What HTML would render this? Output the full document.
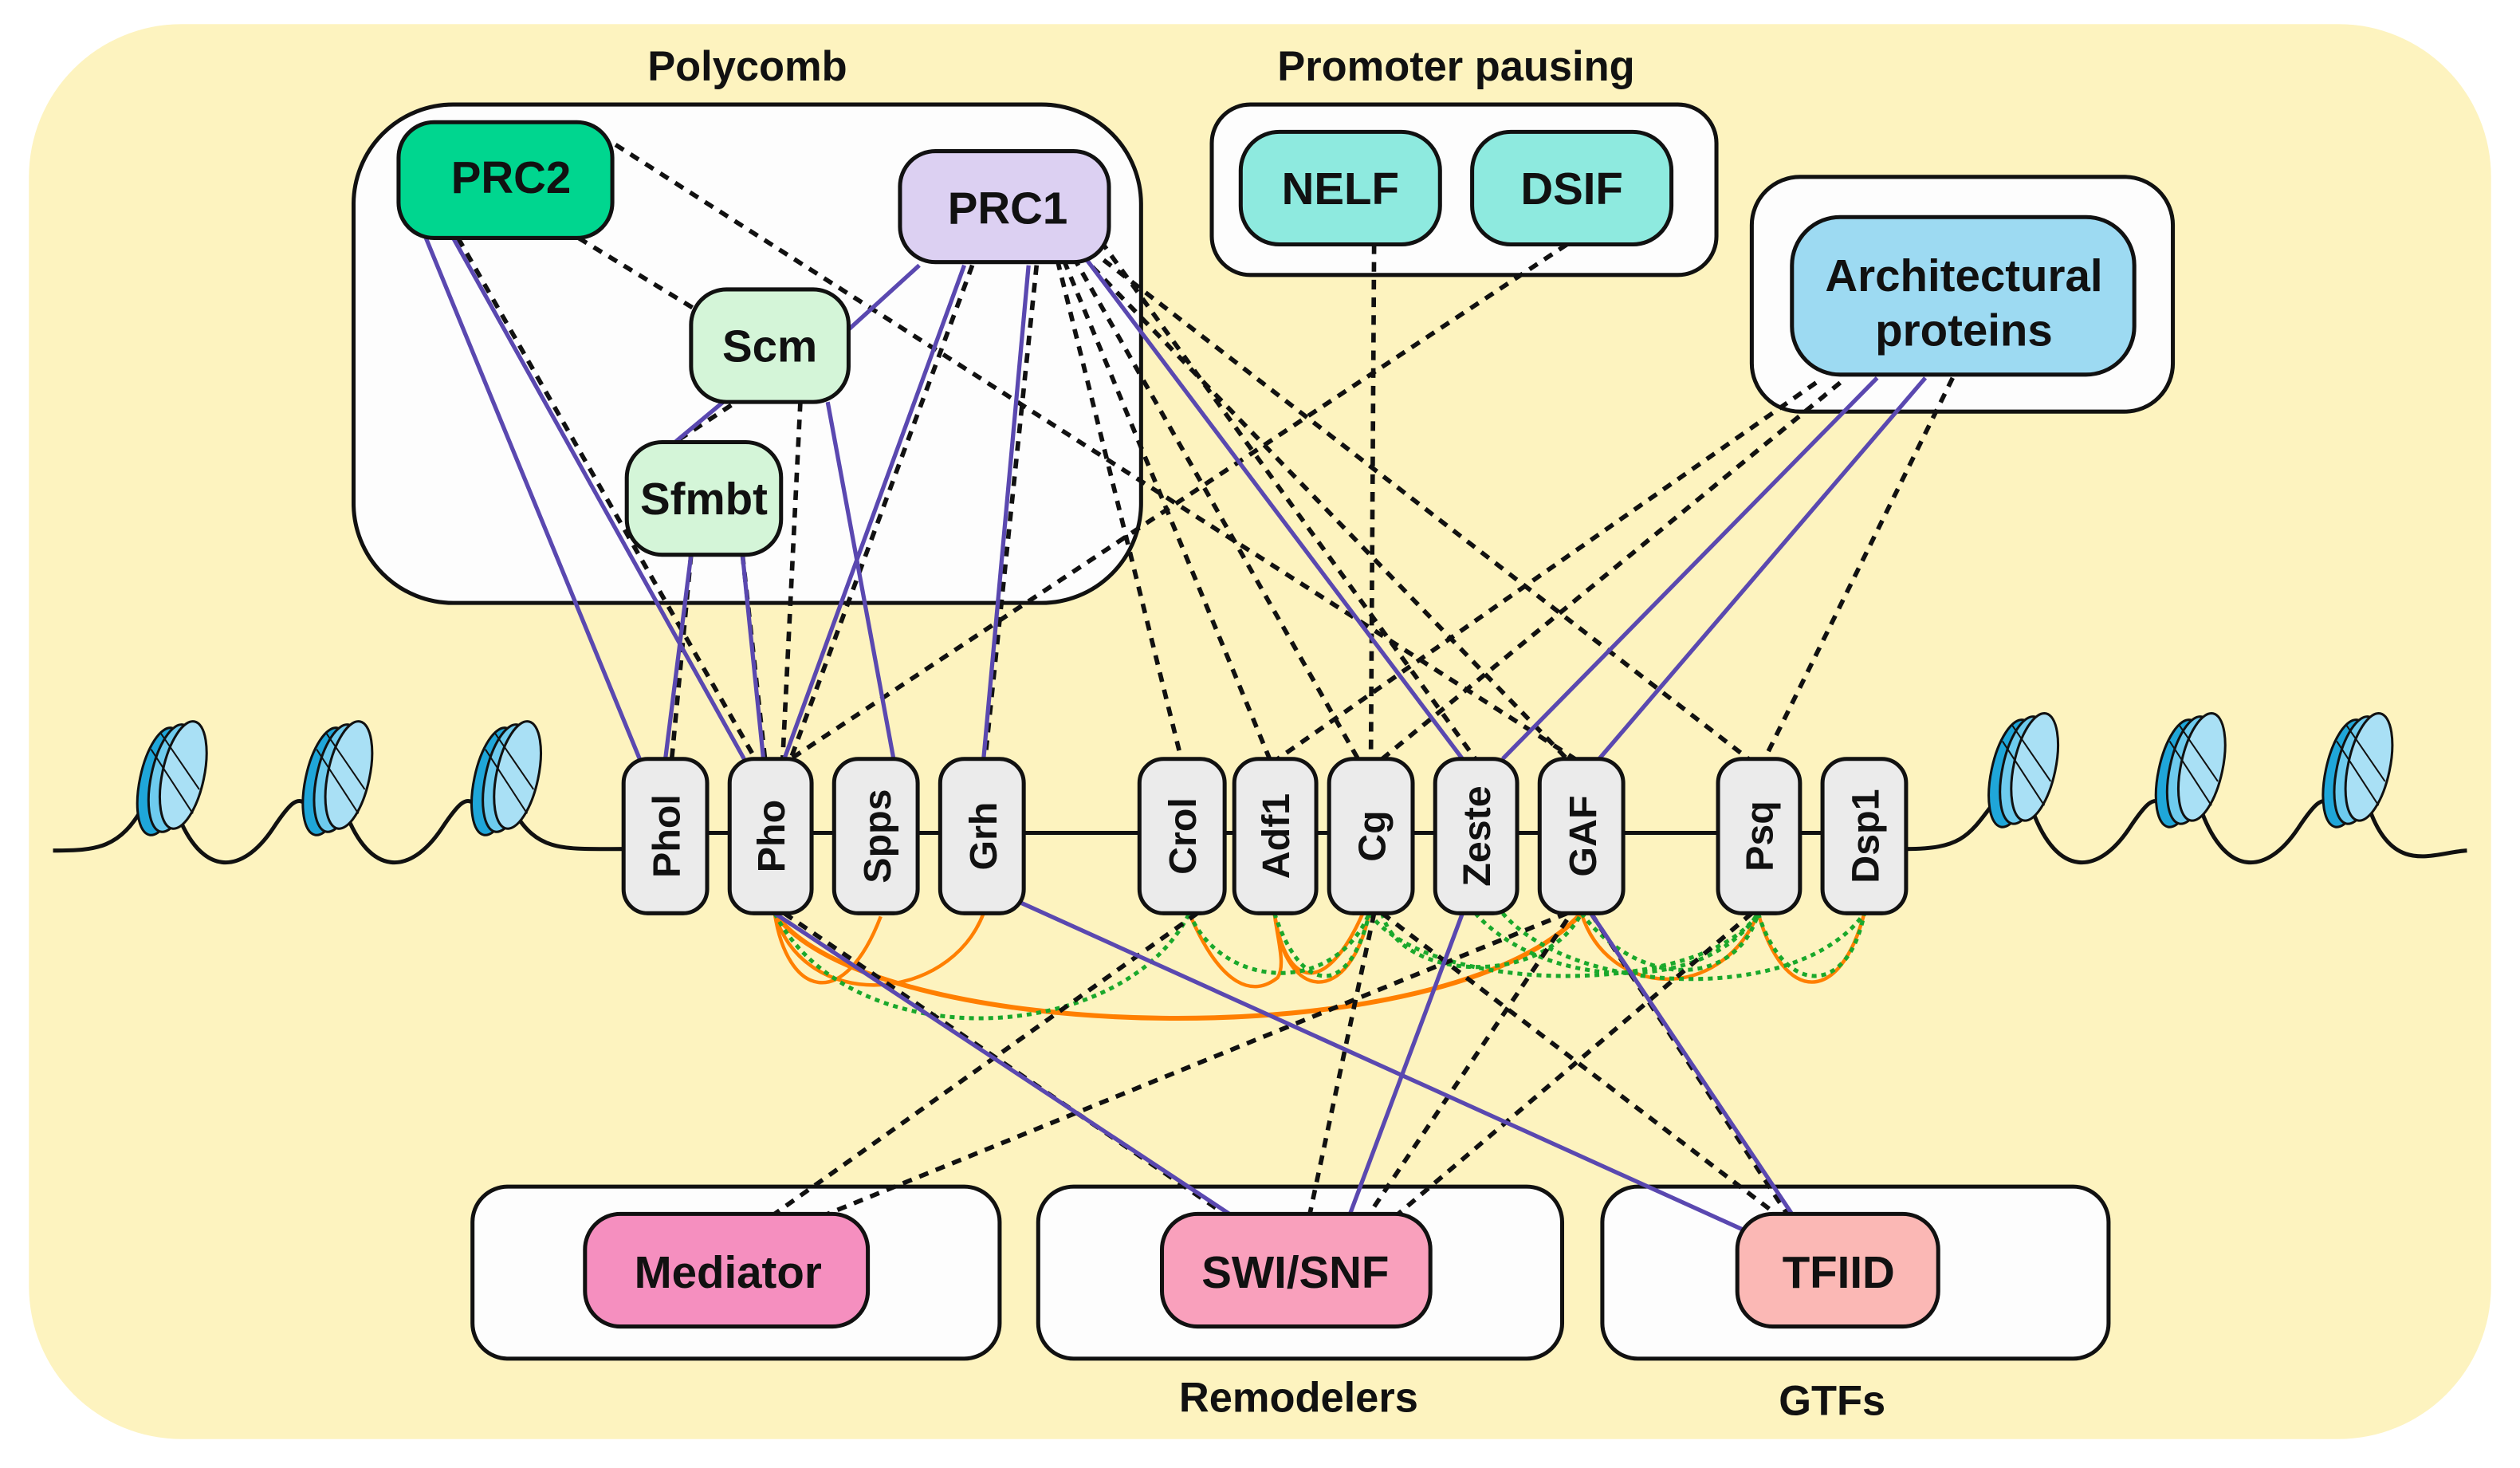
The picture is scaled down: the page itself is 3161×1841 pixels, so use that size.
<!DOCTYPE html>
<html><head><meta charset="utf-8"><style>
html,body{margin:0;padding:0;background:#fff;}
svg{display:block;}
text{font-family:"Liberation Sans",Arial,sans-serif;font-weight:bold;fill:#111;}
</style></head><body>
<svg width="3161" height="1841" viewBox="0 0 1568 913" preserveAspectRatio="none" xmlns="http://www.w3.org/2000/svg">
<rect x="0" y="0" width="1568" height="913" fill="#fff"/>
<rect x="18" y="15" width="1532" height="880" rx="95" fill="#fdf3bf"/>

<g stroke="#111" stroke-width="2.5" fill="#fdfdfd">
<rect x="220" y="65" width="490" height="310" rx="62"/>
<rect x="754" y="65" width="314" height="106" rx="24"/>
<rect x="1090" y="110" width="262" height="146" rx="30"/>
<rect x="294" y="738" width="328" height="107" rx="22"/>
<rect x="646" y="738" width="326" height="107" rx="22"/>
<rect x="997" y="738" width="315" height="107" rx="22"/>
</g>
<text x="465" y="50" font-size="26" text-anchor="middle">Polycomb</text>
<text x="906" y="50" font-size="26" text-anchor="middle">Promoter pausing</text>
<text x="808" y="878" font-size="26" text-anchor="middle">Remodelers</text>
<text x="1140" y="880" font-size="26" text-anchor="middle">GTFs</text>

<g fill="none" stroke="#111" stroke-width="2.5">
<path d="M33,529 C60,529 75,528 90,500 M110,505 C125,545 150,545 170,515 C180,500 185,495 190,500 M215,505 C230,545 255,545 275,515 C285,500 290,495 295,500 M320,505 C335,530 350,528 388,528"/>
<line x1="440" y1="518" x2="1134" y2="518"/>
<path d="M1186,528 C1220,528 1225,520 1240,500 M1265,505 C1280,545 1305,545 1325,515 C1335,500 1340,495 1345,500 M1370,505 C1385,545 1410,545 1430,515 C1440,500 1445,495 1450,500 M1475,505 C1490,545 1515,530 1535,529"/>
</g>

<defs>
<g id="nuc">
<ellipse cx="0" cy="0" rx="13" ry="34" fill="#1fa6d9" stroke="#111" stroke-width="1.5" transform="rotate(12)"/>
<ellipse cx="7" cy="-2" rx="13" ry="34" fill="#6ecbee" stroke="#111" stroke-width="1.5" transform="rotate(12 7 -2)"/>
<ellipse cx="14" cy="-4" rx="13" ry="34" fill="#a9e0f5" stroke="#111" stroke-width="1.5" transform="rotate(12 14 -4)"/>
<line x1="-6" y1="-20" x2="20" y2="20" stroke="#111" stroke-width="1"/>
<line x1="0" y1="-30" x2="24" y2="5" stroke="#111" stroke-width="1"/>
</g>
</defs>
<use href="#nuc" x="100" y="486"/>
<use href="#nuc" x="203" y="486"/>
<use href="#nuc" x="308" y="486"/>
<use href="#nuc" x="1252" y="481"/>
<use href="#nuc" x="1356" y="481"/>
<use href="#nuc" x="1460" y="481"/>

<g fill="none" stroke="#ff7f00" stroke-width="2.2">
<path d="M482,568 C490,620 525,630 548,570"/>
<path d="M482,568 C500,630 590,625 612,568"/>
<path d="M482,568 C540,650 900,660 984,568" stroke-width="3"/>
<path d="M740,568 C760,615 780,620 795,608 C800,600 795,585 793,568"/>
<path d="M793,568 C800,625 840,625 852,568"/>
<path d="M793,568 C800,615 825,620 848,568"/>
<path d="M984,568 C1000,620 1070,625 1094,568"/>
<path d="M1094,568 C1110,625 1145,625 1160,568"/>
</g>
<g fill="none" stroke="#1aa82b" stroke-width="2.5" stroke-dasharray="3,3">
<path d="M482,568 C530,660 700,650 740,568"/>
<path d="M740,568 C760,615 830,620 852,568"/>
<path d="M793,568 C810,620 840,620 852,568"/>
<path d="M852,568 C890,620 1060,620 1094,568"/>
<path d="M918,568 C960,615 1060,620 1094,568"/>
<path d="M935,568 C980,620 1120,625 1160,568"/>
<path d="M984,568 C1020,615 1080,615 1094,568"/>
<path d="M1094,568 C1110,620 1150,620 1160,568"/>
<path d="M860,568 C870,610 960,615 984,568"/>
</g>

<g fill="none" stroke="#111" stroke-width="2.8" stroke-dasharray="6,5">
<line x1="383" y1="90" x2="980" y2="472"/>
<line x1="360" y1="148" x2="432" y2="192"/>
<line x1="285" y1="148" x2="470" y2="472"/>
<line x1="498" y1="250" x2="487" y2="472"/>
<line x1="455" y1="252" x2="420" y2="275"/>
<line x1="462" y1="345" x2="476" y2="472"/>
<line x1="430" y1="345" x2="418" y2="472"/>
<line x1="605" y1="165" x2="492" y2="472"/>
<line x1="645" y1="165" x2="613" y2="472"/>
<line x1="658" y1="162" x2="735" y2="472"/>
<line x1="662" y1="162" x2="790" y2="472"/>
<line x1="668" y1="160" x2="845" y2="472"/>
<line x1="672" y1="158" x2="975" y2="472"/>
<line x1="678" y1="155" x2="1088" y2="472"/>
<line x1="685" y1="150" x2="918" y2="472"/>
<line x1="975" y1="152" x2="492" y2="472"/>
<line x1="855" y1="152" x2="853" y2="472"/>
<line x1="1130" y1="238" x2="795" y2="472"/>
<line x1="1145" y1="238" x2="860" y2="472"/>
<line x1="1215" y1="235" x2="1098" y2="472"/>
<line x1="745" y1="568" x2="482" y2="755"/>
<line x1="975" y1="568" x2="515" y2="755"/>
<line x1="488" y1="568" x2="762" y2="755"/>
<line x1="855" y1="568" x2="815" y2="755"/>
<line x1="975" y1="572" x2="852" y2="755"/>
<line x1="1090" y1="568" x2="870" y2="755"/>
<line x1="860" y1="568" x2="1105" y2="755"/>
<line x1="990" y1="568" x2="1112" y2="755"/>
</g>

<g fill="none" stroke="#5a48b0" stroke-width="2.6">
<line x1="265" y1="148" x2="398" y2="472"/>
<line x1="282" y1="148" x2="463" y2="472"/>
<line x1="572" y1="165" x2="528" y2="205"/>
<line x1="450" y1="250" x2="420" y2="275"/>
<line x1="600" y1="165" x2="488" y2="472"/>
<line x1="640" y1="165" x2="612" y2="472"/>
<line x1="675" y1="160" x2="910" y2="472"/>
<line x1="430" y1="345" x2="414" y2="472"/>
<line x1="462" y1="345" x2="475" y2="472"/>
<line x1="515" y1="250" x2="556" y2="472"/>
<line x1="1168" y1="235" x2="935" y2="472"/>
<line x1="1198" y1="235" x2="995" y2="472"/>
<line x1="482" y1="568" x2="765" y2="755"/>
<line x1="632" y1="560" x2="1085" y2="765"/>
<line x1="910" y1="568" x2="840" y2="755"/>
<line x1="990" y1="568" x2="1115" y2="755"/>
</g>

<g stroke="#111" stroke-width="2.5">
<rect x="248" y="76" width="133" height="72" rx="22" fill="#00d68f"/>
<rect x="560" y="94" width="130" height="69" rx="22" fill="#dcd0f2"/>
<rect x="430" y="180" width="98" height="70" rx="22" fill="#d4f5d8"/>
<rect x="390" y="275" width="96" height="70" rx="22" fill="#d4f5d8"/>
<rect x="772" y="82" width="124" height="70" rx="24" fill="#8eeadf"/>
<rect x="916" y="82" width="124" height="70" rx="24" fill="#8eeadf"/>
<rect x="1115" y="135" width="213" height="98" rx="30" fill="#9ddaf2"/>
<rect x="364" y="755" width="176" height="70" rx="22" fill="#f58fbf"/>
<rect x="723" y="755" width="167" height="70" rx="22" fill="#f9a0bc"/>
<rect x="1081" y="755" width="125" height="70" rx="22" fill="#fbb8b5"/>
</g>
<g font-size="28" text-anchor="middle">
<text x="318" y="120">PRC2</text>
<text x="627" y="139">PRC1</text>
<text x="479" y="225">Scm</text>
<text x="438" y="320">Sfmbt</text>
<text x="834" y="127">NELF</text>
<text x="978" y="127">DSIF</text>
<text x="1222" y="181">Architectural</text>
<text x="1222" y="215">proteins</text>
<text x="453" y="801">Mediator</text>
<text x="806" y="801">SWI/SNF</text>
<text x="1144" y="801">TFIID</text>
</g>

<g stroke="#111" stroke-width="2.5" fill="#ebebeb">
<rect x="388" y="472" width="52" height="96" rx="15"/>
<rect x="454" y="472" width="51" height="96" rx="15"/>
<rect x="519" y="472" width="52" height="96" rx="15"/>
<rect x="585" y="472" width="52" height="96" rx="15"/>
<rect x="709" y="472" width="53" height="96" rx="15"/>
<rect x="768" y="472" width="51" height="96" rx="15"/>
<rect x="827" y="472" width="52" height="96" rx="15"/>
<rect x="893" y="472" width="51" height="96" rx="15"/>
<rect x="958" y="472" width="52" height="96" rx="15"/>
<rect x="1069" y="472" width="51" height="96" rx="15"/>
<rect x="1134" y="472" width="52" height="96" rx="15"/>
</g>
<g font-size="24" text-anchor="middle">
<text transform="translate(423,520) rotate(-90)">Phol</text>
<text transform="translate(488,520) rotate(-90)">Pho</text>
<text transform="translate(554,520) rotate(-90)">Spps</text>
<text transform="translate(620,520) rotate(-90)">Grh</text>
<text transform="translate(744,520) rotate(-90)">Crol</text>
<text transform="translate(802,520) rotate(-90)">Adf1</text>
<text transform="translate(862,520) rotate(-90)">Cg</text>
<text transform="translate(927,520) rotate(-90)">Zeste</text>
<text transform="translate(993,520) rotate(-90)">GAF</text>
<text transform="translate(1103,520) rotate(-90)">Psq</text>
<text transform="translate(1169,520) rotate(-90)">Dsp1</text>
</g>
</svg>
</body></html>
